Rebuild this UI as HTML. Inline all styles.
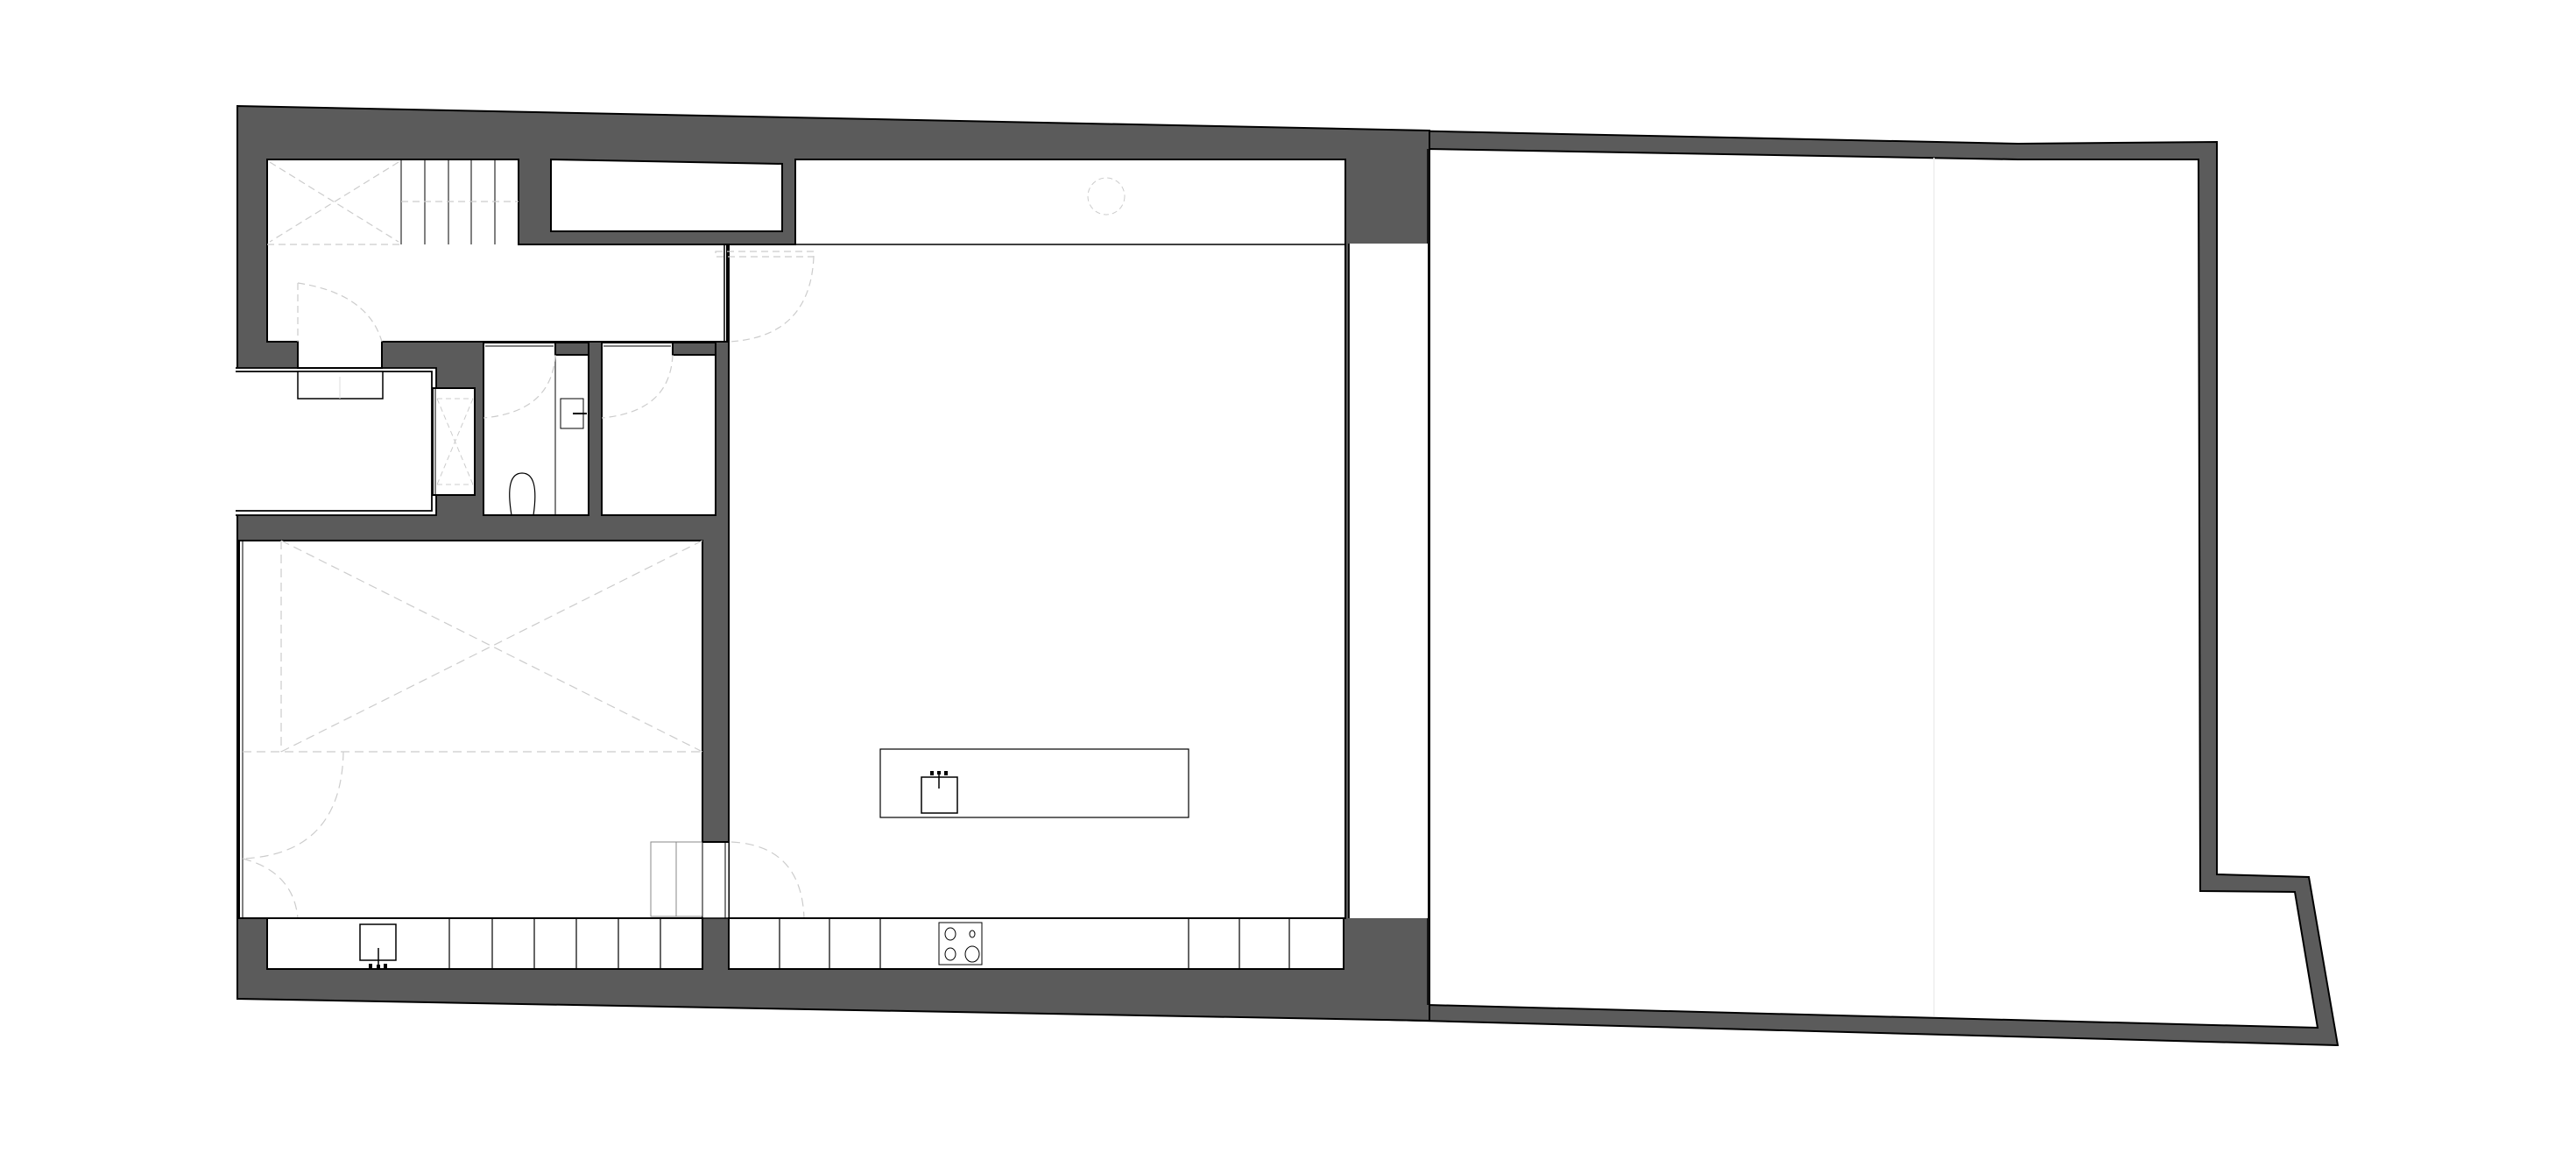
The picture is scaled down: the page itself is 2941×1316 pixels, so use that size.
<!DOCTYPE html>
<html><head><meta charset="utf-8"><style>html,body{margin:0;padding:0;background:#fff}svg{display:block}</style></head>
<body>
<svg width="2941" height="1316" viewBox="0 0 2941 1316" xmlns="http://www.w3.org/2000/svg">
<g stroke-linejoin="miter">
<path fill-rule="evenodd" fill="#5b5b5b" stroke="#000" stroke-width="2"
 d="M1550,148 L2304,164 L2531,162 L2531,998 L2636,1001 L2669,1193 L1550,1163 Z
    M1630,170 L2304,182 L2510,182 L2512,1017 L2620,1018 L2646,1173 L1630,1147 Z"/>
<path fill="#5b5b5b" stroke="#000" stroke-width="2" d="M271,121 L1632,149 L1632,1165 L271,1140 Z"/>
<line x1="1630" y1="170" x2="1630" y2="1147" stroke="#000" stroke-width="1.5"/>
<line x1="2208" y1="180" x2="2208" y2="1160" stroke="#eee" stroke-width="1.5"/>
<rect x="1540" y="278" width="90" height="770" fill="#fff"/>
<line x1="1540" y1="278" x2="1540" y2="1048" stroke="#000" stroke-width="1.5"/>
<line x1="1632" y1="278" x2="1632" y2="1048" stroke="#000" stroke-width="1.5"/>
<rect x="269" y="420" width="229" height="168" fill="#fff"/>
<path d="M269,420 H498 V588 H269 M269,424 H493 V583 H269" fill="none" stroke="#000" stroke-width="1.8"/>
<path fill="#fff" stroke="#000" stroke-width="2" d="M305,182 H592 V279 H830 V390 H436 V420 H340 V390 H305 Z"/>
<rect x="340" y="424" width="97" height="31" fill="#fff" stroke="#000" stroke-width="1.5"/>
<line x1="388" y1="430" x2="388" y2="455" stroke="#ddd" stroke-width="1"/>
<g stroke="#000" stroke-width="1">
<line x1="458" y1="182" x2="458" y2="279"/><line x1="485" y1="182" x2="485" y2="279"/><line x1="512" y1="182" x2="512" y2="279"/><line x1="538" y1="182" x2="538" y2="279"/><line x1="565" y1="182" x2="565" y2="279"/>
</g>
<path fill="#fff" stroke="#000" stroke-width="2" d="M629,182 L893,187 V264 H629 Z"/>
<path fill="#fff" stroke="#000" stroke-width="2" d="M908,182 H1536 V1048 H832 V279 H908 Z"/>
<line x1="830" y1="279" x2="1536" y2="279" stroke="#000" stroke-width="1.5"/>
<line x1="827" y1="279" x2="827" y2="390" stroke="#000" stroke-width="1.5"/>
<line x1="832" y1="279" x2="832" y2="1048" stroke="#000" stroke-width="2"/>
<line x1="1540" y1="278" x2="1540" y2="1048" stroke="#000" stroke-width="1.5"/>
<g stroke="#ccc" stroke-width="1.2" stroke-dasharray="8,5" fill="none">
<line x1="305" y1="279" x2="458" y2="279"/><line x1="308" y1="185" x2="455" y2="276"/><line x1="455" y1="185" x2="308" y2="276"/>
<line x1="458" y1="230" x2="592" y2="230"/>
<path d="M340,323 V390"/>
<path d="M340,323 Q420,335 436,390"/>
<rect x="817" y="287" width="112" height="6"/>
<path d="M929,293 Q925,385 832,390"/>
</g>
<circle cx="1263" cy="224" r="21" fill="none" stroke="#ccc" stroke-dasharray="6,4"/>
<rect x="1005" y="855" width="352" height="78" fill="#fff" stroke="#000" stroke-width="1.2"/>
<rect x="1052" y="887" width="41" height="41" fill="none" stroke="#000" stroke-width="1.5"/>
<line x1="1072" y1="880" x2="1072" y2="900" stroke="#000" stroke-width="1.5"/>
<rect x="1062" y="880" width="4" height="5" fill="#000"/><rect x="1078" y="880" width="4" height="5" fill="#000"/><rect x="1070" y="880" width="4" height="4" fill="#000"/>
<rect x="552" y="391" width="120" height="197" fill="#fff" stroke="#000" stroke-width="2"/>
<rect x="634" y="391" width="38" height="14" fill="#5b5b5b" stroke="#000" stroke-width="2"/>
<line x1="634" y1="405" x2="634" y2="588" stroke="#000" stroke-width="1"/>
<line x1="554" y1="395" x2="632" y2="395" stroke="#000" stroke-width="1"/>
<rect x="640" y="455" width="26" height="34" fill="none" stroke="#000" stroke-width="1"/>
<line x1="654" y1="472" x2="670" y2="472" stroke="#000" stroke-width="2"/>
<path d="M584,588 Q576,540 596,540 Q616,540 609,588" fill="none" stroke="#000" stroke-width="1.2"/>
<rect x="687" y="391" width="130" height="197" fill="#fff" stroke="#000" stroke-width="2"/>
<rect x="768" y="391" width="49" height="14" fill="#5b5b5b" stroke="#000" stroke-width="2"/>
<line x1="689" y1="395" x2="766" y2="395" stroke="#000" stroke-width="1"/>
<g stroke="#ccc" stroke-width="1.2" stroke-dasharray="8,5" fill="none">
<path d="M634,405 Q630,470 552,477"/>
<path d="M768,405 Q765,470 687,477"/>
</g>
<rect x="494" y="443" width="48" height="122" fill="#fff" stroke="#000" stroke-width="2"/>
<line x1="497" y1="443" x2="497" y2="565" stroke="#000" stroke-width="1"/>
<g stroke="#ccc" stroke-width="1" stroke-dasharray="6,4"><line x1="499" y1="455" x2="540" y2="455"/><line x1="499" y1="553" x2="540" y2="553"/><line x1="499" y1="455" x2="540" y2="553"/><line x1="540" y1="455" x2="499" y2="553"/></g>
<rect x="273" y="617" width="529" height="431" fill="#fff" stroke="#000" stroke-width="2"/>
<line x1="277" y1="617" x2="277" y2="1048" stroke="#000" stroke-width="1"/>
<g stroke="#ccc" stroke-width="1.2" stroke-dasharray="10,6" fill="none">
<line x1="321" y1="617" x2="321" y2="858"/><line x1="277" y1="858" x2="802" y2="858"/>
<line x1="321" y1="617" x2="802" y2="858"/><line x1="802" y1="617" x2="321" y2="858"/>
<path d="M392,858 Q390,975 277,980"/>
<path d="M277,980 Q335,995 340,1048"/>
<path d="M835,961 Q915,965 918,1048"/>
</g>
<rect x="743" y="961" width="59" height="85" fill="#fff" stroke="#888" stroke-width="1"/>
<line x1="772" y1="961" x2="772" y2="1046" stroke="#888" stroke-width="1"/>
<rect x="802" y="961" width="30" height="87" fill="#fff" stroke="#000" stroke-width="1"/>
<line x1="802" y1="961" x2="832" y2="961" stroke="#000" stroke-width="2"/>
<line x1="828" y1="961" x2="828" y2="1048" stroke="#000" stroke-width="1"/>
<line x1="273" y1="1048" x2="1536" y2="1048" stroke="#000" stroke-width="1.5"/>
<rect x="305" y="1048" width="497" height="58" fill="#fff" stroke="#000" stroke-width="2"/>
<rect x="832" y="1048" width="702" height="58" fill="#fff" stroke="#000" stroke-width="2"/>
<g stroke="#000" stroke-width="1.2">
<line x1="513" y1="1048" x2="513" y2="1106"/><line x1="562" y1="1048" x2="562" y2="1106"/><line x1="610" y1="1048" x2="610" y2="1106"/><line x1="658" y1="1048" x2="658" y2="1106"/><line x1="706" y1="1048" x2="706" y2="1106"/><line x1="754" y1="1048" x2="754" y2="1106"/>
<line x1="890" y1="1048" x2="890" y2="1106"/><line x1="947" y1="1048" x2="947" y2="1106"/><line x1="1005" y1="1048" x2="1005" y2="1106"/>
<line x1="1357" y1="1048" x2="1357" y2="1106"/><line x1="1415" y1="1048" x2="1415" y2="1106"/><line x1="1472" y1="1048" x2="1472" y2="1106"/>
</g>
<rect x="411" y="1055" width="41" height="41" fill="none" stroke="#000" stroke-width="1.5"/>
<line x1="432" y1="1082" x2="432" y2="1103" stroke="#000" stroke-width="1.5"/>
<rect x="421" y="1100" width="4" height="5" fill="#000"/><rect x="438" y="1100" width="4" height="5" fill="#000"/><rect x="430" y="1101" width="4" height="4" fill="#000"/>
<rect x="1072" y="1053" width="49" height="48" fill="none" stroke="#000" stroke-width="1"/>
<g fill="none" stroke="#000" stroke-width="1"><ellipse cx="1085" cy="1066" rx="6" ry="7"/><ellipse cx="1110" cy="1066" rx="3" ry="4"/><ellipse cx="1085" cy="1089" rx="6" ry="7"/><ellipse cx="1110" cy="1089" rx="8" ry="9"/></g>
</g>
</svg>
</body></html>
